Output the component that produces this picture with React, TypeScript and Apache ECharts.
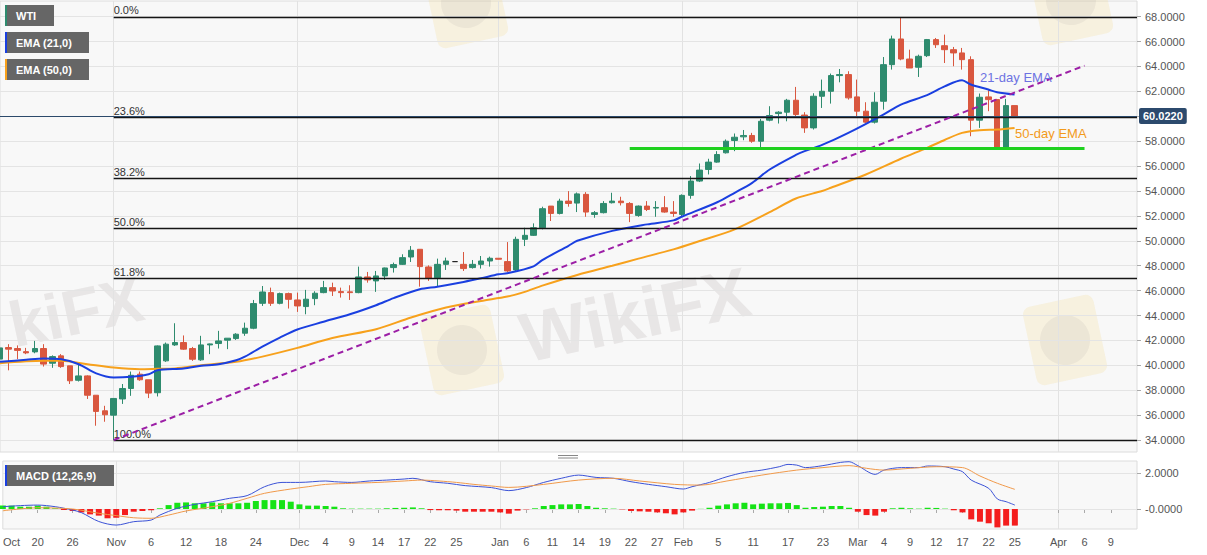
import React, { useEffect, useRef } from 'react';
import * as echarts from 'echarts';

// ---------- data ----------
const SESSION_START = [2020, 9, 14]; // 14 Oct 2020, weekdays only
const SESSION_COUNT = 131; // through 14 Apr 2021

const opens = [
  40.5, 41.43, 41.35, 41.1, 41.08, 41.35, 40.17, 40.76, 39.96, 38.8,
  39.15, 37.6, 36.35, 36.0, 37.3, 38.14, 39.29, 38.84, 37.8, 40.36,
  41.64, 41.83, 41.35, 40.44, 41.64, 41.75, 42.02, 42.15, 42.58, 42.98,
  44.98, 45.84, 44.98, 45.76, 45.25, 44.72, 45.36, 45.84, 46.24, 45.92,
  45.9, 45.84, 47.1, 46.78, 47.18, 47.85, 48.11, 48.7, 49.32, 47.9,
  47.04, 48.11, 48.33, 48.11, 47.85, 48.11, 48.38, 48.6, 48.33, 47.66,
  50.12, 50.44, 51.05, 52.79, 52.2, 53.19, 53.03, 53.73, 52.12, 52.26,
  53.06, 53.19, 53.0, 52.04, 52.79, 52.63, 52.66, 52.31, 52.12, 53.65,
  54.8, 55.73, 56.32, 57.07, 58.06, 58.35, 58.46, 58.0, 59.69, 60.22,
  60.33, 61.29, 60.1, 59.07, 61.61, 62.01, 63.27, 63.35, 61.56, 60.41,
  59.53, 61.21, 64.15, 66.21, 64.6, 63.94, 64.87, 66.16, 65.67, 65.35,
  65.09, 64.55, 59.69, 61.56, 61.34, 57.47, 60.86,
];
const closes = [
  41.4, 41.3, 41.2, 41.0, 41.35, 40.1, 40.7, 39.9, 38.76, 39.15,
  37.6, 36.3, 36.03, 37.34, 38.14, 39.2, 38.84, 37.77, 41.56, 41.7,
  41.83, 41.3, 40.49, 41.64, 41.72, 41.96, 42.18, 42.5, 42.98, 44.96,
  45.89, 44.98, 45.76, 45.3, 44.77, 45.31, 45.79, 46.24, 45.97, 45.84,
  45.84, 47.1, 46.86, 47.18, 47.82, 48.09, 48.65, 49.24, 47.93, 46.99,
  48.11, 48.38, 48.33, 47.77, 48.11, 48.38, 48.6, 48.52, 47.58, 50.12,
  50.44, 51.05, 52.58, 52.2, 53.19, 53.0, 53.77, 52.31, 52.26, 53.0,
  53.19, 53.06, 52.2, 52.79, 52.52, 52.68, 52.31, 52.2, 53.65, 54.8,
  55.68, 56.32, 56.93, 58.0, 58.32, 58.46, 58.0, 59.6, 60.06, 60.33,
  61.29, 60.14, 59.07, 61.61, 62.01, 63.27, 63.35, 61.48, 60.41, 59.53,
  61.13, 64.15, 66.21, 64.6, 63.88, 64.82, 66.16, 65.75, 65.35, 65.09,
  64.55, 59.69, 61.53, 61.34, 57.47, 60.86, 60.02,
];
const lows = [
  40.3, 39.6, 40.5, 40.9, 40.97, 39.9, 39.8, 39.8, 38.5, 38.7,
  37.3, 35.15, 35.47, 34.0, 36.9, 37.55, 38.76, 37.37, 37.5, 40.28,
  41.56, 41.24, 40.36, 40.36, 40.9, 41.35, 41.3, 42.04, 42.37, 42.9,
  44.77, 44.77, 44.9, 44.56, 44.29, 44.1, 44.83, 45.79, 45.57, 45.44,
  45.25, 45.79, 46.64, 45.9, 46.86, 47.45, 48.06, 48.3, 46.32, 46.78,
  46.32, 47.66, 48.33, 47.58, 47.77, 47.77, 47.93, 48.5, 47.5, 47.5,
  49.58, 50.39, 50.92, 51.59, 52.12, 52.74, 52.31, 51.93, 51.85, 52.2,
  53.0, 52.84, 51.5, 51.93, 52.39, 51.93, 52.26, 51.93, 51.99, 53.38,
  54.72, 55.33, 56.27, 57.01, 57.2, 58.08, 57.87, 57.47, 59.6, 59.42,
  59.6, 59.95, 58.67, 58.94, 60.67, 61.02, 62.73, 61.34, 60.01, 59.47,
  59.42, 60.54, 63.75, 64.5, 63.88, 63.16, 64.76, 65.49, 64.28, 64.02,
  63.75, 58.4, 59.07, 60.41, 57.47, 57.47, 60.0,
];
const highs = [
  41.6, 41.7, 41.6, 41.4, 41.96, 41.7, 40.8, 40.9, 39.96, 40.1,
  39.2, 37.6, 36.75, 37.34, 38.5, 39.5, 39.5, 38.84, 41.6, 41.83,
  43.38, 42.4, 41.48, 42.37, 41.75, 42.77, 42.18, 42.58, 43.43, 45.25,
  46.37, 46.24, 45.84, 45.84, 45.84, 46.06, 45.95, 46.78, 46.64, 46.24,
  46.43, 47.93, 47.5, 47.58, 47.85, 48.25, 48.92, 49.58, 49.32, 48.03,
  48.57, 48.65, 48.33, 49.1, 48.46, 48.78, 48.73, 48.62, 49.9, 50.33,
  51.05, 51.4, 52.74, 52.79, 53.38, 53.99, 53.88, 53.91, 52.39, 53.19,
  53.86, 53.54, 53.11, 52.84, 53.19, 53.19, 53.59, 53.19, 53.73, 55.2,
  56.21, 56.59, 57.2, 58.14, 58.62, 58.9, 58.67, 59.79, 60.81, 60.41,
  61.4, 62.36, 60.33, 61.85, 62.95, 63.43, 63.8, 63.62, 62.95, 61.13,
  61.93, 64.76, 66.48, 67.95, 65.35, 64.95, 66.21, 66.29, 66.56, 65.57,
  65.49, 64.82, 61.83, 62.09, 61.4, 61.4, 60.86,
];

const ema21 = [
  [0, 40.28], [3, 40.45], [5, 40.55], [7, 40.49], [9, 40.09], [11, 39.35], [13, 39.02], [15, 39.08],
  [17, 39.29], [18, 39.6], [21, 39.75], [23, 39.96], [25, 40.09], [27, 40.41], [28, 40.7], [30, 41.5],
  [32, 42.23], [34, 42.88], [37, 43.5], [40, 44.1], [43, 44.83], [45, 45.4], [48, 46.11], [50, 46.32],
  [53, 46.7], [55, 46.99], [57, 47.31], [58, 47.39], [61, 47.95], [62, 48.45], [65, 49.6], [66, 50.0],
  [70, 50.8], [74, 51.32], [77, 51.64], [78, 51.95], [82, 53.1], [84, 53.86], [86, 54.66], [88, 55.73],
  [91, 56.9], [92, 57.2], [94, 57.7], [97, 58.67], [101, 60.14], [103, 60.94], [106, 61.7], [108, 62.4],
  [110, 62.9], [111, 62.55], [113, 62.15], [114, 61.93], [116, 61.75],
];
const ema50 = [
  [0, 40.17], [5, 40.36], [7, 40.36], [10, 40.09], [13, 39.82], [16, 39.69], [18, 39.72], [20, 39.75],
  [23, 40.0], [27, 40.28], [30, 40.7], [34, 41.4], [38, 42.2], [43, 42.9], [47, 43.84], [51, 44.64],
  [55, 45.17], [58, 45.52], [60, 45.9], [62, 46.4], [66, 47.26], [70, 48.0], [73, 48.57], [77, 49.31],
  [80, 49.98], [84, 50.92], [88, 52.3], [91, 53.4], [94, 54.0], [95, 54.26], [99, 55.33], [103, 56.59],
  [106, 57.47], [108, 58.1], [110, 58.67], [112, 58.88], [114, 58.94], [116, 59.07],
];

const macdLine = [
  [0, 0.13], [2, 0.19], [4, 0.22], [6, 0.13], [8, -0.06], [9, -0.2], [11, -0.7], [13, -0.9], [15, -0.71],
  [17, -0.62], [18, -0.34], [20, 0.04], [22, 0.26], [24, 0.41], [26, 0.6], [28, 0.75], [30, 1.25],
  [32, 1.49], [34, 1.49], [37, 1.57], [38, 1.53], [40, 1.49], [42, 1.57], [44, 1.62], [46, 1.68],
  [47, 1.72], [49, 1.53], [51, 1.44], [53, 1.31], [56, 1.2], [58, 1.03], [60, 1.2], [62, 1.49],
  [64, 1.72], [66, 1.9], [68, 1.77], [70, 1.72], [72, 1.53], [74, 1.38], [76, 1.25], [78, 1.12],
  [79, 1.25], [81, 1.49], [83, 1.81], [85, 2.05], [87, 2.18], [89, 2.37], [90, 2.5], [91, 2.46],
  [92, 2.32], [94, 2.43], [96, 2.61], [97, 2.65], [98, 2.43], [100, 1.94], [101, 2.18], [103, 2.32],
  [105, 2.32], [106, 2.41], [108, 2.37], [109, 2.24], [110, 2.09], [111, 1.62], [113, 1.16],
  [114, 0.56], [115, 0.41], [116, 0.22],
];
const signalLine = [
  [0, -0.1], [4, 0.07], [8, 0.0], [11, -0.24], [13, -0.37], [15, -0.49], [17, -0.52], [19, -0.34],
  [21, -0.11], [24, 0.13], [26, 0.32], [28, 0.6], [30, 0.88], [33, 1.12], [35, 1.25], [37, 1.38],
  [40, 1.44], [43, 1.49], [46, 1.57], [48, 1.62], [50, 1.57], [52, 1.49], [54, 1.38], [56, 1.29],
  [58, 1.21], [62, 1.38], [66, 1.62], [70, 1.72], [73, 1.57], [77, 1.38], [80, 1.34], [83, 1.57],
  [87, 1.9], [91, 2.18], [94, 2.32], [97, 2.43], [99, 2.28], [101, 2.18], [104, 2.28], [107, 2.37],
  [110, 2.32], [112, 1.85], [114, 1.44], [116, 1.1],
];
const macdHist = [
  0.19, 0.19, 0.13, 0.13, 0.19, 0.13, 0.04, -0.06, -0.11, -0.19,
  -0.3, -0.37, -0.52, -0.49, -0.34, -0.15, -0.11, -0.07, 0.04, 0.22,
  0.35, 0.37, 0.32, 0.32, 0.37, 0.32, 0.32, 0.32, 0.35, 0.45,
  0.5, 0.5, 0.5, 0.41, 0.26, 0.19, 0.19, 0.17, 0.13, 0.04,
  0.02, 0.02, 0.02, 0.02, 0.04, 0.06, 0.07, 0.09, 0.04, -0.06,
  -0.07, -0.07, -0.09, -0.15, -0.15, -0.15, -0.15, -0.19, -0.26, -0.09,
  -0.02, 0.04, 0.17, 0.22, 0.26, 0.26, 0.28, 0.17, 0.07, 0.04,
  0.02, -0.02, -0.11, -0.13, -0.15, -0.19, -0.24, -0.3, -0.19, -0.09,
  0.01, 0.07, 0.19, 0.26, 0.32, 0.35, 0.26, 0.3, 0.32, 0.32,
  0.34, 0.22, 0.07, 0.11, 0.13, 0.17, 0.17, 0.07, -0.15, -0.34,
  -0.37, -0.15, 0.04, 0.07, 0.04, 0.02, 0.07, 0.06, 0.02, -0.07,
  -0.19, -0.58, -0.71, -0.8, -1.03, -0.93, -0.93,
];

const fibLevels = [67.98, 59.9, 55.0, 50.99, 46.98, 34.0];
const fibLabels = ['0.0%', '23.6%', '38.2%', '50.0%', '61.8%', '100.0%'];
const fibStartIndex = 13;
const lastIndex = 130;
const lastPrice = 60.022;
const trendLine = [[13, 34.0], [124, 64.07]];
const supportLine = [[72, 57.4], [124, 57.4]];
const ema21Note = [112, 63.15];
const ema50Note = [116, 58.58];

const priceTicks = [34, 36, 38, 40, 42, 44, 46, 48, 50, 52, 54, 56, 58, 60, 62, 64, 66, 68];
const macdTicks = [0, 2];
const tickLabels = ['Oct', '20', '26', 'Nov', '6', '12', '18', '24', 'Dec', '4', '9', '14', '17', '22', '25', 'Jan', '6', '11', '14', '19', '22', '27', 'Feb', '5', '11', '17', '23', 'Mar', '4', '9', '12', '17', '22', '25', 'Apr', '6', '9'];
const tickIndex = [1, 4, 8, 13, 17, 21, 25, 29, 34, 37, 40, 43, 46, 49, 52, 57, 60, 63, 66, 69, 72, 75, 78, 82, 86, 90, 94, 98, 101, 104, 107, 110, 113, 116, 121, 124, 127];
const monthStartIndex = [13, 34, 57, 78, 98, 121];

// ---------- helpers ----------
const FONT = '"Liberation Sans", Arial, Helvetica, sans-serif';
const UP = '#2e8b6e';
const DOWN = '#d9573f';

function buildSessions(): string[] {
  const out: string[] = [];
  const d = new Date(Date.UTC(SESSION_START[0], SESSION_START[1], SESSION_START[2]));
  while (out.length < SESSION_COUNT) {
    const wd = d.getUTCDay();
    if (wd !== 0 && wd !== 6) out.push(d.toISOString().slice(0, 10));
    d.setUTCDate(d.getUTCDate() + 1);
  }
  return out;
}

function legendBox(y: number, w: number, label: string, accent: string) {
  return [
    { type: 'rect', z: 20, silent: true, shape: { x: 5, y, width: w, height: 21 }, style: { fill: '#666666' } },
    { type: 'rect', z: 21, silent: true, shape: { x: 5, y, width: 2, height: 21 }, style: { fill: accent } },
    {
      type: 'text', z: 21, silent: true,
      style: { x: 16, y: y + 11, text: label, fill: '#ffffff', font: `bold 11px ${FONT}`, verticalAlign: 'middle', textVerticalAlign: 'middle' },
    },
  ];
}

function logo(x: number, y: number) {
  return {
    type: 'group', x, y, rotation: 0.21, z: 1, silent: true,
    children: [
      { type: 'rect', shape: { x: -36, y: -40, width: 72, height: 80, r: 8 }, style: { fill: 'rgba(245,222,150,0.26)' } },
      { type: 'circle', shape: { cx: 0, cy: 0, r: 25 }, style: { fill: 'rgba(170,160,160,0.14)' } },
    ],
  };
}

function mark(x: number, y: number, text: string, size: number) {
  return {
    type: 'group', x, y, rotation: 0.21, z: 1, silent: true,
    children: [
      {
        type: 'text',
        style: { x: 0, y: 0, text, font: `bold ${size}px ${FONT}`, fill: 'rgba(150,138,138,0.16)', align: 'center', textAlign: 'center', verticalAlign: 'middle', textVerticalAlign: 'middle' },
      },
    ],
  };
}

function buildOption() {
  const sessions = buildSessions();
  const labelMap = new Map<number, string>(tickIndex.map((ix, k) => [ix, tickLabels[k]]));
  const monthSet = new Set(monthStartIndex);

  const candles = opens.map((o, i) => {
    const c = closes[i];
    const flat = o === c && lows[i] === highs[i];
    return flat
      ? { value: [o, c, lows[i], highs[i]], itemStyle: { color: '#222', color0: '#222', borderColor: '#222', borderColor0: '#222' } }
      : { value: [o, c, lows[i], highs[i]] };
  });

  const hist = macdHist.map((v) => ({ value: v, itemStyle: { color: v >= 0 ? '#16e316' : '#f41d1d' } }));

  const monthSplit = { show: true, interval: (i: number) => monthSet.has(i), lineStyle: { color: '#e2e2e2', width: 1 } };

  return {
    animation: false,
    backgroundColor: '#ffffff',
    textStyle: { fontFamily: FONT },
    grid: [
      { left: 0, top: 1, width: 1137, height: 451, show: true, backgroundColor: '#f8f8f8', borderColor: '#dcdcdc', borderWidth: 1 },
      { left: 0, top: 461, width: 1137, height: 68, show: true, backgroundColor: '#f8f8f8', borderColor: '#dcdcdc', borderWidth: 1 },
    ],
    xAxis: [
      {
        type: 'category', gridIndex: 0, data: sessions, boundaryGap: false,
        axisLine: { show: false }, axisTick: { show: false }, axisLabel: { show: false }, splitLine: monthSplit,
      },
      {
        type: 'category', gridIndex: 1, data: sessions, boundaryGap: false,
        axisLine: { show: false },
        axisTick: { show: true, interval: (i: number) => labelMap.has(i), length: 4, lineStyle: { color: '#aaaaaa' } },
        axisLabel: {
          show: true, interval: (i: number) => labelMap.has(i),
          formatter: (_v: string, i: number) => labelMap.get(i) ?? '',
          color: '#555555', fontSize: 11, margin: 7,
        },
        splitLine: monthSplit,
      },
    ],
    yAxis: [
      {
        type: 'value', gridIndex: 0, position: 'right', min: 33.04, max: 69.26, scale: true,
        axisLine: { show: false }, splitLine: { show: false },
        axisTick: { show: true, customValues: priceTicks, length: 4, lineStyle: { color: '#aaaaaa' } },
        axisLabel: { customValues: priceTicks, formatter: (v: number) => v.toFixed(4), color: '#555555', fontSize: 11, margin: 8 },
      },
      {
        type: 'value', gridIndex: 1, position: 'right', min: -1.12, max: 2.69, scale: true,
        axisLine: { show: false }, splitLine: { show: false },
        axisTick: { show: true, customValues: macdTicks, length: 4, lineStyle: { color: '#aaaaaa' } },
        axisLabel: { customValues: macdTicks, formatter: (v: number) => (v === 0 ? '-0.0000' : v.toFixed(4)), color: '#555555', fontSize: 11, margin: 8 },
      },
    ],
    series: [
      {
        name: 'priceGrid', type: 'line', xAxisIndex: 0, yAxisIndex: 0, data: [], silent: true,
        markLine: {
          z: 1, silent: true, symbol: 'none', label: { show: false },
          lineStyle: { color: '#e4e4e4', width: 1, type: 'solid' },
          data: priceTicks.map((v) => ({ yAxis: v })),
        },
      },
      {
        name: 'macdGrid', type: 'line', xAxisIndex: 1, yAxisIndex: 1, data: [], silent: true,
        markLine: {
          z: 1, silent: true, symbol: 'none', label: { show: false },
          lineStyle: { color: '#e4e4e4', width: 1, type: 'solid' },
          data: macdTicks.map((v) => ({ yAxis: v })),
        },
      },
      {
        name: 'WTI', type: 'candlestick', xAxisIndex: 0, yAxisIndex: 0, data: candles, barWidth: 6, z: 2,
        itemStyle: { color: UP, color0: DOWN, borderColor: UP, borderColor0: DOWN, borderWidth: 1 },
      },
      {
        name: 'EMA50', type: 'line', xAxisIndex: 0, yAxisIndex: 0, data: ema50, showSymbol: false, smooth: 0.3, z: 3,
        lineStyle: { color: '#f7a11c', width: 2 },
        markPoint: {
          symbol: 'circle', symbolSize: 1, itemStyle: { color: 'rgba(0,0,0,0)' },
          label: { show: true, position: 'right', distance: 0, formatter: '50-day EMA', color: '#f39a1a', fontSize: 13 },
          data: [{ coord: ema50Note }],
        },
      },
      {
        name: 'EMA21', type: 'line', xAxisIndex: 0, yAxisIndex: 0, data: ema21, showSymbol: false, smooth: 0.3, z: 3,
        lineStyle: { color: '#1a3fe0', width: 2 },
        markPoint: {
          symbol: 'circle', symbolSize: 1, itemStyle: { color: 'rgba(0,0,0,0)' },
          label: { show: true, position: 'right', distance: 0, formatter: '21-day EMA', color: '#6d72e2', fontSize: 13 },
          data: [{ coord: ema21Note }],
        },
      },
      {
        name: 'fib', type: 'line', xAxisIndex: 0, yAxisIndex: 0, data: [], silent: true,
        markLine: {
          z: 4, silent: true, symbol: 'none',
          lineStyle: { color: '#151515', width: 1.3, type: 'solid' },
          label: { show: true, position: 'insideStartTop', distance: [0, 1], formatter: (p: any) => p.name, color: '#333333', fontSize: 11 },
          data: fibLevels.map((lv, k) => [
            { name: fibLabels[k], coord: [fibStartIndex, lv] },
            { coord: [lastIndex, lv] },
          ]),
        },
      },
      {
        name: 'price', type: 'line', xAxisIndex: 0, yAxisIndex: 0, data: [], silent: true,
        markLine: {
          z: 5, silent: true, symbol: 'none',
          lineStyle: { color: '#2c4a6b', width: 1, type: 'solid' },
          label: {
            show: true, position: 'end', distance: 2, formatter: lastPrice.toFixed(4),
            color: '#ffffff', fontWeight: 'bold', fontSize: 11, backgroundColor: '#2c4a6d', padding: [3, 4, 2, 4], borderRadius: 2,
          },
          data: [[{ coord: [0, lastPrice] }, { coord: [lastIndex, lastPrice] }]],
        },
      },
      {
        name: 'trend', type: 'line', xAxisIndex: 0, yAxisIndex: 0, data: [], silent: true,
        markLine: {
          z: 5, silent: true, symbol: 'none', label: { show: false },
          lineStyle: { color: '#9c1fa6', width: 2, type: [6, 4] },
          data: [[{ coord: trendLine[0] }, { coord: trendLine[1] }]],
        },
      },
      {
        name: 'support', type: 'line', xAxisIndex: 0, yAxisIndex: 0, data: [], silent: true,
        markLine: {
          z: 5, silent: true, symbol: 'none', label: { show: false },
          lineStyle: { color: '#1fd11f', width: 3, type: 'solid' },
          data: [[{ coord: supportLine[0] }, { coord: supportLine[1] }]],
        },
      },
      {
        name: 'hist', type: 'bar', xAxisIndex: 1, yAxisIndex: 1, data: hist, barWidth: 6, z: 2,
      },
      {
        name: 'MACD', type: 'line', xAxisIndex: 1, yAxisIndex: 1, data: macdLine, showSymbol: false, smooth: 0.3, z: 3,
        lineStyle: { color: '#3b52d6', width: 1 },
      },
      {
        name: 'Signal', type: 'line', xAxisIndex: 1, yAxisIndex: 1, data: signalLine, showSymbol: false, smooth: 0.3, z: 3,
        lineStyle: { color: '#f0994a', width: 1 },
      },
    ],
    graphic: [
      mark(635, 315, 'WikiFX', 70),
      mark(76, 312, 'kiFX', 64),
      logo(462, 350),
      logo(1065, 340),
      logo(1071, 0),
      logo(466, 3),
      ...legendBox(5, 49, 'WTI', UP),
      ...legendBox(32, 84, 'EMA (21,0)', '#1a3fe0'),
      ...legendBox(59, 84, 'EMA (50,0)', '#f7a11c'),
      ...legendBox(465, 109, 'MACD (12,26,9)', '#1a3fe0'),
      { type: 'line', z: 20, silent: true, shape: { x1: 558, y1: 455.5, x2: 578, y2: 455.5 }, style: { stroke: '#888888', lineWidth: 1 } },
      { type: 'line', z: 20, silent: true, shape: { x1: 558, y1: 458, x2: 578, y2: 458 }, style: { stroke: '#888888', lineWidth: 1 } },
    ],
  };
}

export default function App() {
  const ref = useRef<HTMLDivElement>(null);
  useEffect(() => {
    document.body.style.margin = '0';
    const chart = echarts.init(ref.current as HTMLDivElement, undefined, { renderer: 'svg' });
    chart.setOption(buildOption() as any);
    return () => chart.dispose();
  }, []);
  return <div ref={ref} style={{ width: 1207, height: 555 }} />;
}
